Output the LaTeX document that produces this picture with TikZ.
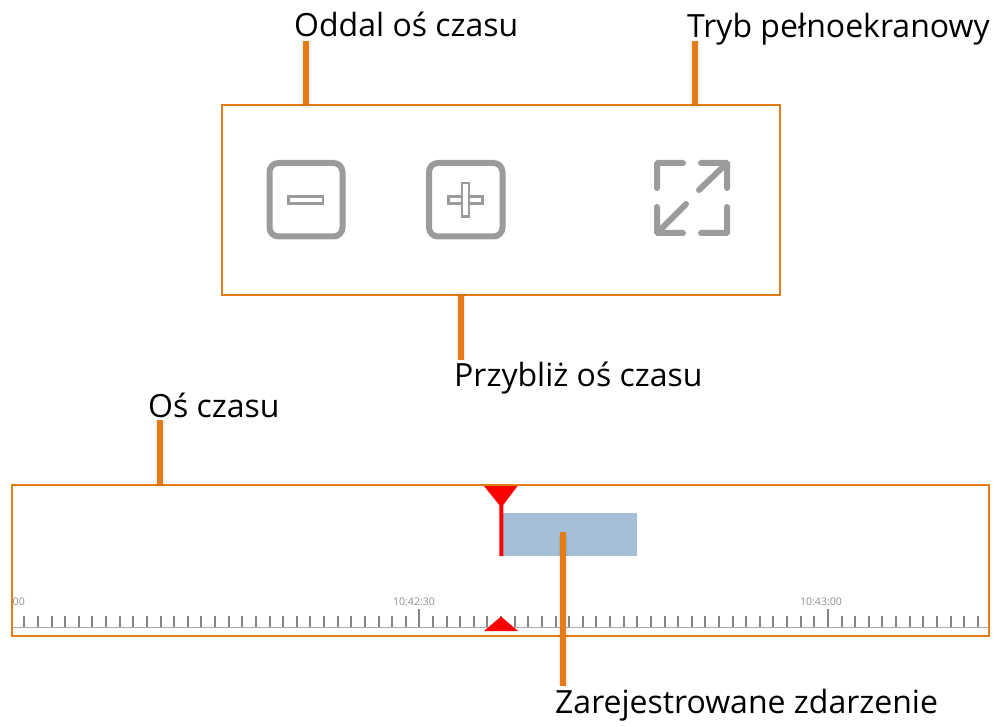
\documentclass[tikz,border=0pt]{standalone}
\usepackage{fontspec}
\setmainfont{Open Sans}
\definecolor{org}{HTML}{E57B14}
\definecolor{ico}{HTML}{9B9B9B}
\definecolor{evt}{HTML}{A5BFD6}
\definecolor{tick}{HTML}{858585}
\definecolor{tl}{HTML}{8E8E8E}
\tikzset{
  x=1pt,y=-1pt,
  lbl/.style={inner sep=0pt,anchor=base west,font=\fontsize{32}{38}\selectfont,text=black},
  frame/.style={draw=org,line width=2pt,inner sep=0pt,fill=none},
  conn/.style={draw=org,line width=5.5pt},
  connshadow/.style={draw=black,opacity=.05,line width=10pt},
  iconbox/.style={draw=ico,line width=6pt,rounded corners=9pt},
  iconline/.style={draw=ico,line width=6pt,line cap=round,rounded corners=1pt},
  signbar/.style={draw=ico,line width=2.6pt,fill=white},
  tlabel/.style={inner sep=0pt,font=\fontsize{10.6}{12}\selectfont,text=tl},
}
\begin{document}
\begin{tikzpicture}
\useasboundingbox (0,0) rectangle (998,727);
% boxes
\node[frame,minimum width=558pt,minimum height=190pt] (top) at (501,200) {};
\node[frame,minimum width=977pt,minimum height=151pt] (axis) at (500,560.5) {};
% event
\node[fill=evt,inner sep=0pt,minimum width=135pt,minimum height=43pt] (event) at (569.5,534.5) {};
% labels
\node[lbl] (zoomout) at (294,37) {Oddal oś czasu};
\node[lbl] (full) at (687,38) {Tryb pełnoekranowy};
\node[lbl] (zoomin) at (454,386) {Przybliż oś czasu};
\node[lbl] (axislbl) at (148,417) {Oś czasu};
\node[lbl] (evtlbl) at (555,713) {Zarejestrowane zdarzenie};
% icons
\draw[iconbox] (269.5,163) rectangle (342.5,236.5);
\draw[signbar] (288.7,196.3) rectangle (322.8,203.7);
\draw[iconbox] (429,163) rectangle (502.5,236.5);
\draw[signbar] (448.3,196.3) rectangle (482.7,203.7);
\draw[signbar] (462,183) rectangle (468.8,216.5);
\fill[white] (463,197.5) rectangle (467.8,202.5);
\draw[iconline] (657,188) -- (657,163) -- (683,163);
\draw[iconline] (701,163) -- (727,163) -- (727,188);
\draw[iconline] (657,207) -- (657,233) -- (683,233);
\draw[iconline] (701,233) -- (727,233) -- (727,207);
\draw[ico,line width=6pt,line cap=round] (699,190) -- (725,165);
\draw[ico,line width=6pt,line cap=round] (686,204) -- (659,231);
% axis baseline and ticks
\draw[line width=1.8pt,draw=black!33] (12,627.5) -- (989,627.5);
\foreach \i in {0,...,70}{
  \pgfmathsetmacro{\tx}{round(24.4+13.62*\i)}
  \pgfmathtruncatemacro{\m}{int(mod(\i,30))}
  \ifnum\m=29
    \draw[tick,line width=1.5pt] (\tx,609) -- (\tx,627);
  \else
    \draw[tick,line width=1.5pt] (\tx,616) -- (\tx,627);
  \fi
}
\node[tlabel,anchor=base west] (t0) at (12.5,605.5) {00};
\node[tlabel,anchor=base] (t1) at (414,605.5) {10:42:30};
\node[tlabel,anchor=base] (t2) at (821,605.5) {10:43:00};
% playhead
\fill[red] (484,486) -- (517.5,486) -- (503.3,505) -- (503.3,556) -- (499.3,556) -- (499.3,505) -- cycle;
\fill[red] (484,631) -- (501,616.5) -- (518,631) -- cycle;
% connectors
\coordinate (c1) at (306,41);
\coordinate (c2) at (695,41);
\coordinate (c3) at (461,360);
\coordinate (c4) at (160,420);
\coordinate (c5) at (563,686);
\coordinate (c6) at (563,532);
\draw[connshadow] (c1) -- ([yshift=-4pt]c1 |- top.north);
\draw[connshadow] (c2) -- ([yshift=-4pt]c2 |- top.north);
\draw[connshadow] (c3) -- ([yshift=4pt]c3 |- top.south);
\draw[connshadow] (c4) -- ([yshift=-4pt]c4 |- axis.north);
\draw[connshadow] (c5) -- ([yshift=-3pt]c6);
\draw[conn] (c1) -- (c1 |- top.north);
\draw[conn] (c2) -- (c2 |- top.north);
\draw[conn] (c3) -- (c3 |- top.south);
\draw[conn] (c4) -- (c4 |- axis.north);
\draw[conn] (c5) -- (c6);
\end{tikzpicture}
\end{document}
